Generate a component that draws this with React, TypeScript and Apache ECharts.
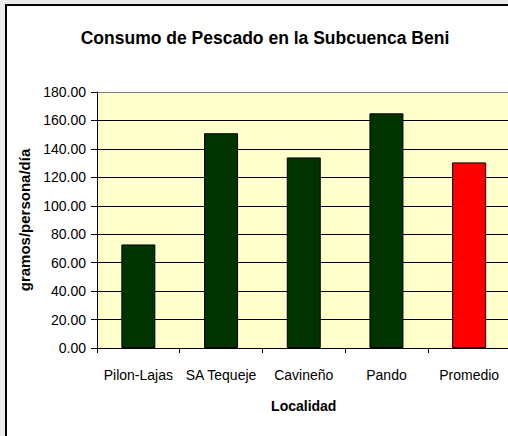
import React, { useEffect, useRef } from "react";
import * as echarts from "echarts";

const categories = ["Pilon-Lajas", "SA Tequeje", "Cavineño", "Pando", "Promedio"];
const consumo = [72.8, 151, 134, 165, 130.5];
const barColors = ["#003300", "#003300", "#003300", "#003300", "#FF0000"];
const titleText = "Consumo de Pescado en la Subcuenca Beni";
const yName = "gramos/persona/día";
const xName = "Localidad";

export default function App() {
  const ref = useRef<HTMLDivElement>(null);
  useEffect(() => {
    if (!ref.current) return;
    const chart = echarts.init(ref.current, null, { renderer: "svg" });
    const font = "Arial, 'Liberation Sans', sans-serif";
    const gridColors = ["#000", "#000", "#000", "#000", "#000", "#000", "#000", "#000", "#000", "#808080"];
    chart.setOption({
      animation: false,
      title: {
        text: titleText,
        left: "center",
        top: 18,
        textStyle: { fontFamily: font, fontSize: 17.5, fontWeight: "bold", color: "#000" },
      },
      grid: {
        left: 90,
        right: 12.5,
        top: 86,
        bottom: 98,
        show: true,
        backgroundColor: "#FFFFCC",
        borderWidth: 0,
      },
      xAxis: {
        type: "category",
        data: categories,
        name: xName,
        nameLocation: "middle",
        nameGap: 51,
        nameTextStyle: { fontFamily: font, fontSize: 14, fontWeight: "bold", color: "#000" },
        axisLine: { lineStyle: { color: "#000", width: 1 } },
        axisTick: { show: true, length: 5, inside: false, lineStyle: { color: "#000" } },
        axisLabel: { fontFamily: font, fontSize: 14, color: "#000", margin: 20, interval: 0 },
      },
      yAxis: {
        type: "value",
        min: 0,
        max: 180,
        interval: 20,
        name: yName,
        nameLocation: "middle",
        nameRotate: 90,
        nameGap: 57,
        nameTextStyle: { fontFamily: font, fontSize: 15, fontWeight: "bold", color: "#000" },
        axisLine: { show: true, lineStyle: { color: "#000", width: 1 } },
        axisTick: { show: true, length: 6, lineStyle: { color: "#000" } },
        axisLabel: {
          fontFamily: font,
          fontSize: 14,
          color: "#000",
          margin: 11,
          formatter: (v: number) => v.toFixed(2),
        },
        splitLine: { show: true, lineStyle: { color: gridColors, width: 1 } },
      },
      series: [
        {
          type: "bar",
          barWidth: 34,
          data: consumo.map((v, i) => ({
            value: v,
            itemStyle: { color: barColors[i], borderColor: "#000", borderWidth: 1 },
          })),
        },
      ],
    });
    return () => chart.dispose();
  }, []);

  return (
    <div
      style={{
        position: "fixed",
        left: 0,
        top: 0,
        width: 508,
        height: 436,
        overflow: "hidden",
        background: "#EBEBEB",
      }}
    >
      <div
        style={{
          position: "absolute",
          left: 5,
          top: 4,
          width: 516,
          height: 440,
          border: "2px solid #000",
          background: "#fff",
        }}
      >
        <div ref={ref} style={{ width: 516, height: 440 }} />
      </div>
    </div>
  );
}
